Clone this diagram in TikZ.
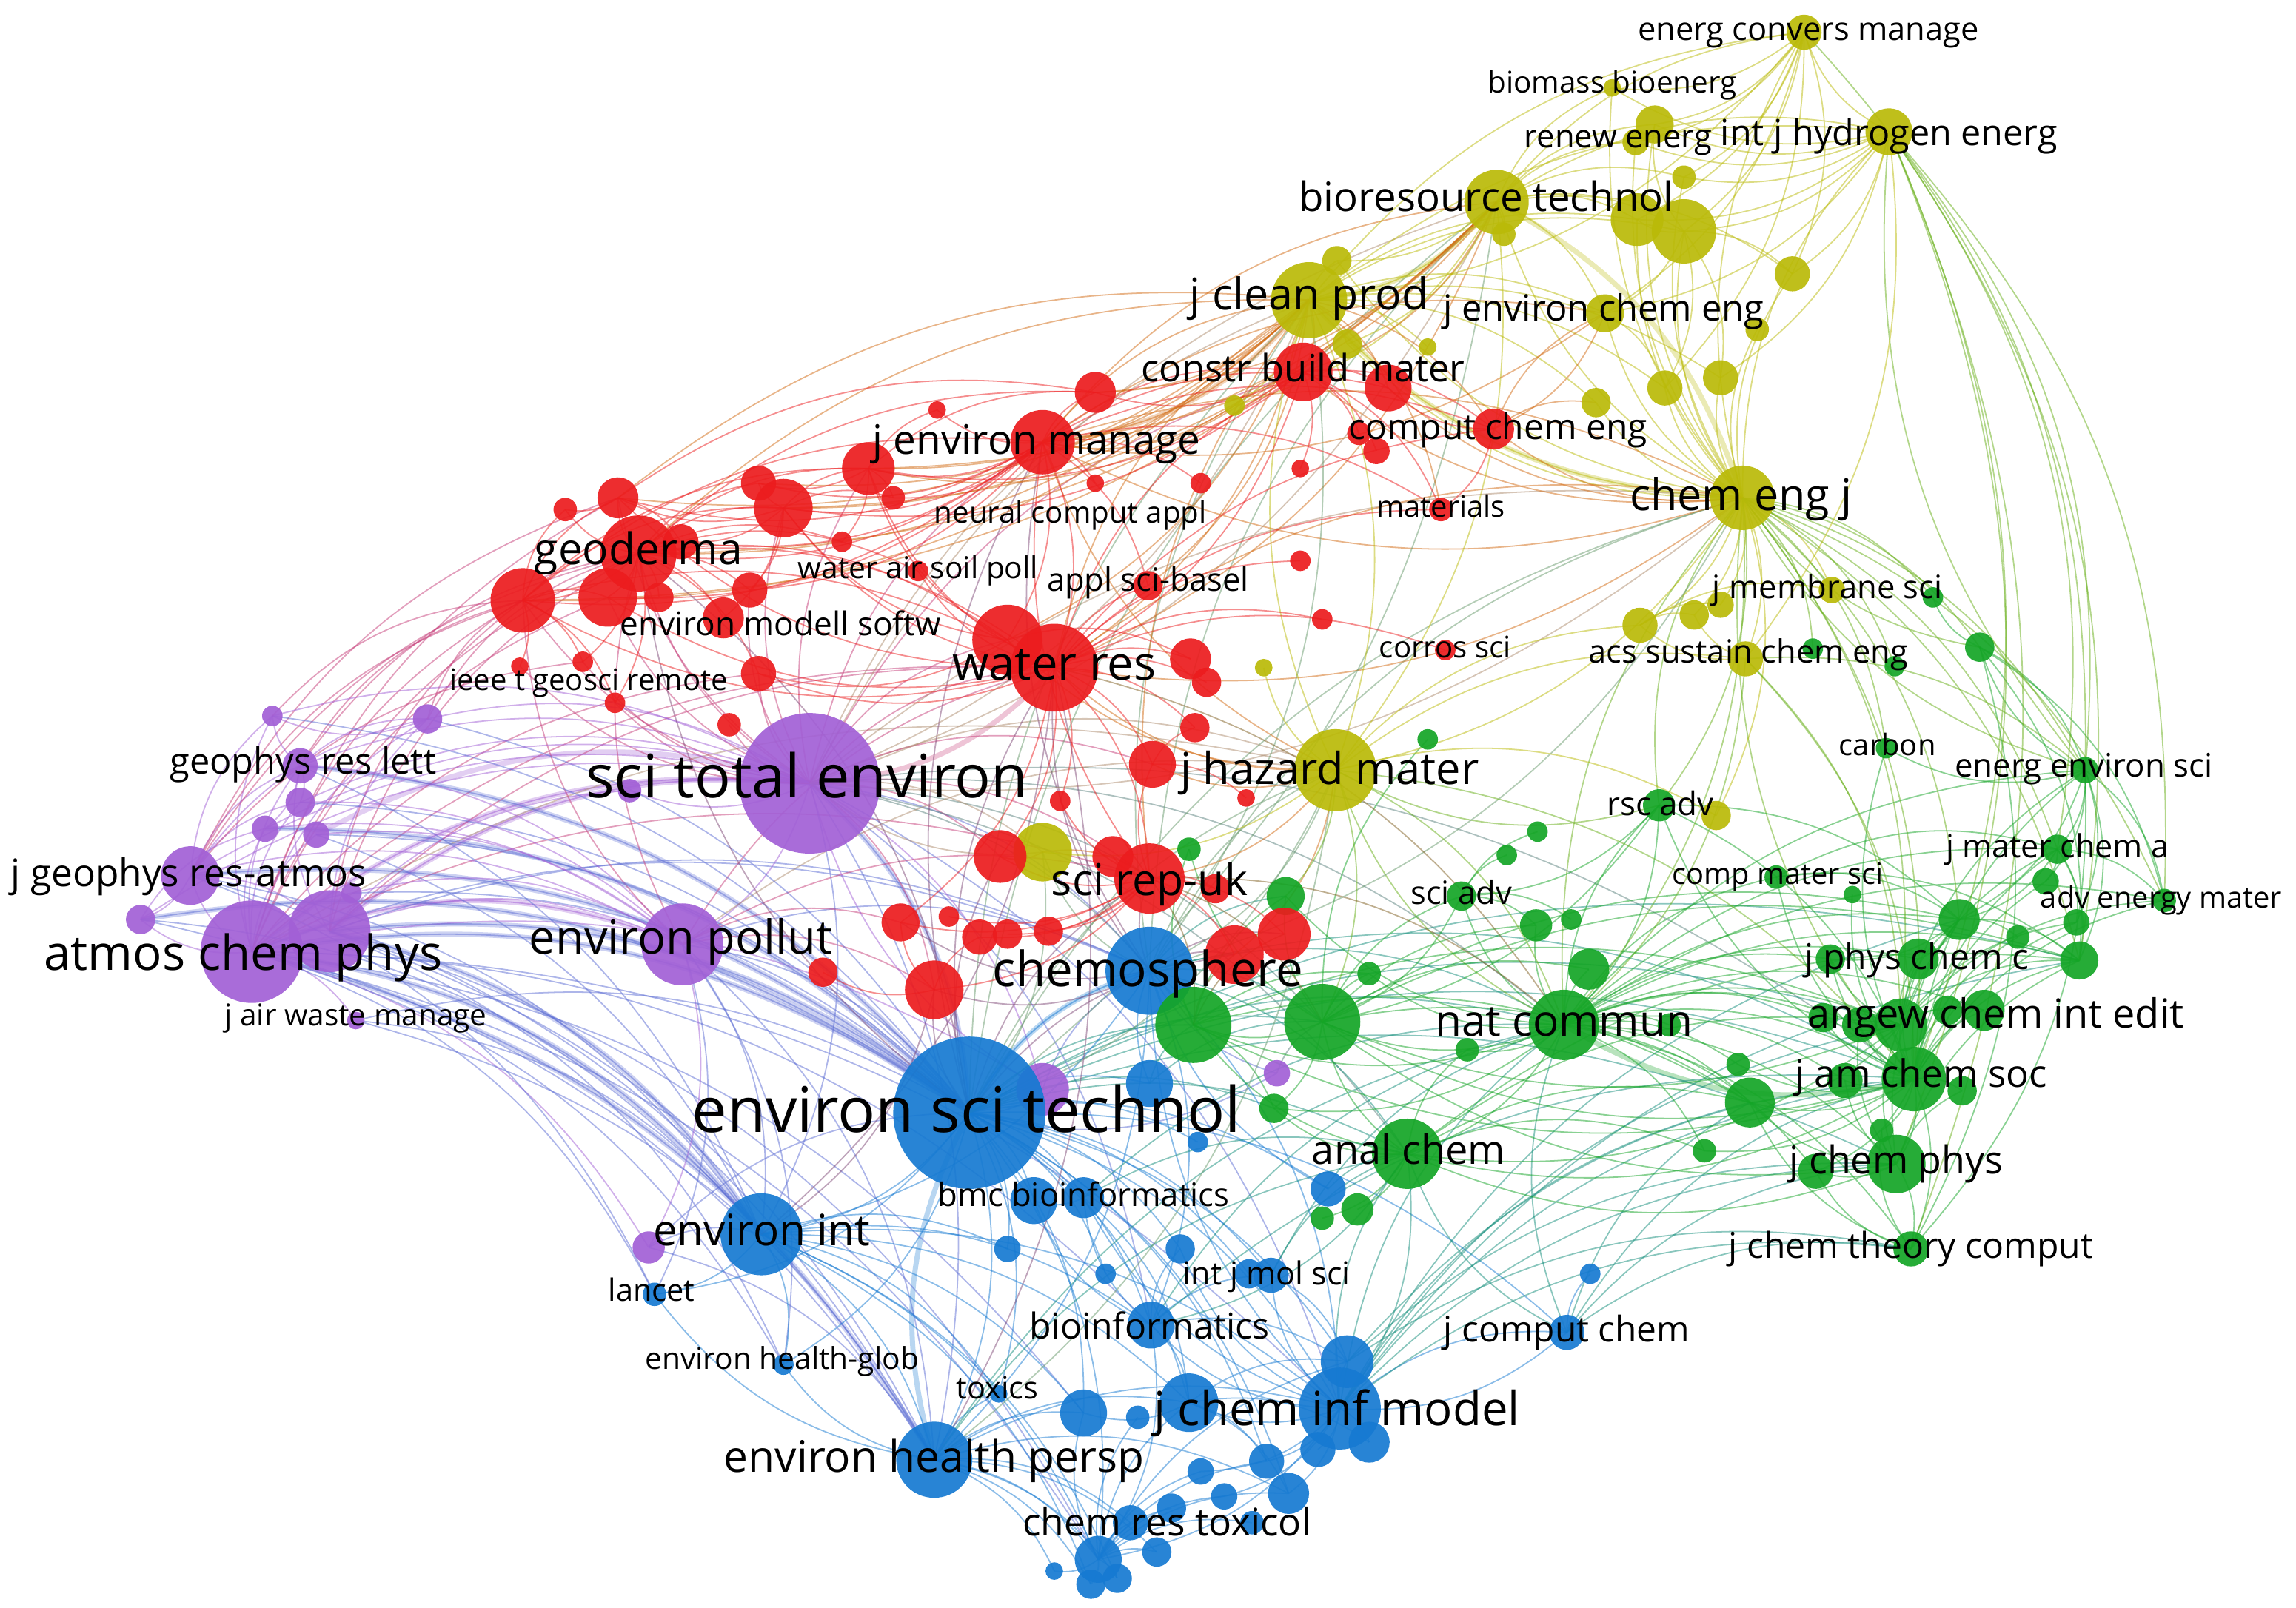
\documentclass[tikz,border=0pt]{standalone}
\usepackage{fontspec}
\setmainfont{Open Sans}
\usepackage{graphicx}
\pgfdeclarelayer{bg}
\pgfdeclarelayer{edges}
\pgfdeclarelayer{labels}
\pgfsetlayers{bg,edges,main,labels}
\definecolor{cred}{RGB}{236,28,30}
\definecolor{cyel}{RGB}{186,186,8}
\definecolor{cgrn}{RGB}{20,165,38}
\definecolor{cblu}{RGB}{22,122,210}
\definecolor{cpur}{RGB}{162,96,214}
\tikzset{
  ball/.style={circle, inner sep=0pt, draw=none, fill opacity=0.92},
  edge/.style={line width=0.9pt, draw opacity=0.5},
  bundle/.style={line width=3.5pt, draw opacity=0.3},
  lbl/.style={inner sep=0pt, text=black}
}
\newcommand\nd[5]{\node[ball, fill=#5, minimum size=#4*2pt] (#1) at (#2,#3) {};\expandafter\gdef\csname nc@#1\endcsname{#5}}
\newcommand\ed[3][]{\edef\ecA{\csname nc@#2\endcsname}\edef\ecB{\csname nc@#3\endcsname}\colorlet{ec}{\ecA!50!\ecB}\draw[edge, color=ec, #1] (#2.center) to[bend left=22] (#3.center);}
\newcommand\hub[2]{\foreach \tg in {#2}{\ed{#1}{\tg}}}
\newcommand\lb[5]{\node[lbl] (#1) at (#2,#3) {\resizebox{#4pt}{!}{\vphantom{hg}#5}};}
\begin{document}
\begin{tikzpicture}[x=1pt,y=-1pt]
\useasboundingbox (0,0) rectangle (1568,1098);
\begin{pgfonlayer}{bg}
\fill[white] (0,0) rectangle (1568,1098);
\end{pgfonlayer}
% ---------- purple
\nd{p1}{553}{535}{48}{cpur}
\nd{p2}{172}{650}{35}{cpur}
\nd{p3}{225}{636}{28}{cpur}
\nd{p4}{466}{645}{28}{cpur}
\nd{p5}{205}{523}{12}{cpur}
\nd{p6}{130}{598}{20}{cpur}
\nd{p7}{243}{697}{6}{cpur}
\nd{p8}{186}{489}{7}{cpur}
\nd{p9}{292}{491}{10}{cpur}
\nd{p10}{205}{548}{10}{cpur}
\nd{p11}{181}{566}{9}{cpur}
\nd{p12}{216}{570}{9}{cpur}
\nd{p13}{96}{628}{10}{cpur}
\nd{p14}{240}{610}{7}{cpur}
\nd{p15}{443}{852}{11}{cpur}
\nd{p16}{872}{733}{9}{cpur}
\nd{p17}{712}{744}{18}{cpur}
\nd{p18}{430}{540}{8}{cpur}
% ---------- blue
\nd{b1}{662}{760}{52}{cblu}
\nd{b2}{785}{663}{30}{cblu}
\nd{b3}{520}{843}{28}{cblu}
\nd{b13}{638}{997}{26}{cblu}
\nd{b11}{915}{962}{28}{cblu}
\nd{b4}{447}{884}{8}{cblu}
\nd{b5}{535}{932}{7}{cblu}
\nd{b6}{786}{905}{16}{cblu}
\nd{b7}{740}{818}{14}{cblu}
\nd{b8}{706}{820}{16}{cblu}
\nd{b9}{868}{871}{12}{cblu}
\nd{b10}{682}{952}{6}{cblu}
\nd{b12}{920}{930}{18}{cblu}
\nd{b14}{750}{1065}{16}{cblu}
\nd{b15}{1070}{910}{12}{cblu}
\nd{b16}{1086}{870}{7}{cblu}
\nd{b17}{688}{853}{9}{cblu}
\nd{b18}{806}{853}{10}{cblu}
\nd{b19}{740}{965}{16}{cblu}
\nd{b20}{777}{968}{8}{cblu}
\nd{b21}{812}{958}{20}{cblu}
\nd{b22}{865}{998}{12}{cblu}
\nd{b23}{880}{1020}{14}{cblu}
\nd{b24}{820}{1005}{9}{cblu}
\nd{b25}{836}{1022}{9}{cblu}
\nd{b26}{720}{1073}{6}{cblu}
\nd{b27}{790}{1060}{10}{cblu}
\nd{b28}{785}{740}{16}{cblu}
\nd{b29}{907}{812}{12}{cblu}
\nd{b30}{818}{780}{7}{cblu}
\nd{b31}{755}{870}{7}{cblu}
\nd{b32}{853}{870}{10}{cblu}
\nd{b34}{772}{1040}{12}{cblu}
\nd{b35}{800}{1030}{10}{cblu}
\nd{b36}{745}{1082}{10}{cblu}
\nd{b37}{763}{1078}{10}{cblu}
\nd{b38}{935}{985}{14}{cblu}
\nd{b39}{900}{990}{12}{cblu}
\nd{b40}{855}{1040}{8}{cblu}
% ---------- green
\nd{g1}{1068}{700}{24}{cgrn}
\nd{g2}{1085}{662}{14}{cgrn}
\nd{g3}{903}{698}{26}{cgrn}
\nd{g4}{815}{700}{26}{cgrn}
\nd{g5}{961}{788}{24}{cgrn}
\nd{g6}{927}{826}{11}{cgrn}
\nd{g7}{903}{832}{8}{cgrn}
\nd{g8}{870}{757}{10}{cgrn}
\nd{g9}{878}{612}{13}{cgrn}
\nd{g10}{998}{612}{10}{cgrn}
\nd{g11}{1049}{632}{11}{cgrn}
\nd{g12}{1073}{628}{7}{cgrn}
\nd{g13}{1029}{584}{7}{cgrn}
\nd{g14}{1050}{568}{7}{cgrn}
\nd{g15}{975}{505}{7}{cgrn}
\nd{g16}{935}{665}{8}{cgrn}
\nd{g17}{1002}{717}{8}{cgrn}
\nd{g18}{1140}{700}{8}{cgrn}
\nd{g19}{1133}{550}{11}{cgrn}
\nd{g20}{1288}{511}{7}{cgrn}
\nd{g21}{1424}{526}{9}{cgrn}
\nd{g22}{1352}{442}{10}{cgrn}
\nd{g23}{1320}{408}{7}{cgrn}
\nd{g24}{1238}{443}{7}{cgrn}
\nd{g25}{1294}{455}{7}{cgrn}
\nd{g26}{1405}{580}{10}{cgrn}
\nd{g27}{1397}{602}{9}{cgrn}
\nd{g28}{1213}{599}{8}{cgrn}
\nd{g29}{1265}{611}{6}{cgrn}
\nd{g30}{1478}{615}{8}{cgrn}
\nd{g31}{1338}{628}{14}{cgrn}
\nd{g32}{1378}{640}{8}{cgrn}
\nd{g33}{1420}{656}{13}{cgrn}
\nd{g34}{1418}{630}{9}{cgrn}
\nd{g35}{1298}{700}{18}{cgrn}
\nd{g36}{1270}{700}{12}{cgrn}
\nd{g37}{1245}{695}{10}{cgrn}
\nd{g38}{1355}{690}{14}{cgrn}
\nd{g39}{1307}{737}{22}{cgrn}
\nd{g40}{1195}{753}{17}{cgrn}
\nd{g41}{1260}{738}{12}{cgrn}
\nd{g42}{1340}{745}{10}{cgrn}
\nd{g43}{1295}{795}{20}{cgrn}
\nd{g44}{1240}{800}{12}{cgrn}
\nd{g45}{1305}{853}{12}{cgrn}
\nd{g46}{1164}{786}{8}{cgrn}
\nd{g47}{1285}{772}{8}{cgrn}
\nd{g48}{1250}{655}{10}{cgrn}
\nd{g49}{1310}{655}{14}{cgrn}
\nd{g50}{812}{580}{8}{cgrn}
\nd{g52}{1187}{727}{8}{cgrn}
\nd{g53}{1330}{690}{10}{cgrn}
% ---------- yellow
\nd{y1}{1232}{22}{12}{cyel}
\nd{y2}{1101}{60}{6}{cyel}
\nd{y3}{1117}{97}{9}{cyel}
\nd{y4}{1130}{85}{13}{cyel}
\nd{y5}{1290}{90}{16}{cyel}
\nd{y6}{1150}{121}{8}{cyel}
\nd{y7}{1022}{138}{22}{cyel}
\nd{y8}{1027}{160}{8}{cyel}
\nd{y9}{1118}{150}{18}{cyel}
\nd{y10}{1150}{158}{22}{cyel}
\nd{y11}{1224}{187}{12}{cyel}
\nd{y12}{913}{178}{10}{cyel}
\nd{y13}{894}{205}{26}{cyel}
\nd{y14}{920}{235}{10}{cyel}
\nd{y15}{975}{237}{6}{cyel}
\nd{y16}{1096}{214}{13}{cyel}
\nd{y17}{1200}{225}{8}{cyel}
\nd{y18}{1137}{265}{12}{cyel}
\nd{y19}{1175}{258}{12}{cyel}
\nd{y20}{1090}{275}{10}{cyel}
\nd{y21}{843}{277}{7}{cyel}
\nd{y22}{1190}{340}{22}{cyel}
\nd{y23}{1251}{403}{9}{cyel}
\nd{y24}{1120}{427}{12}{cyel}
\nd{y25}{1157}{420}{10}{cyel}
\nd{y26}{1175}{413}{9}{cyel}
\nd{y27}{1192}{450}{12}{cyel}
\nd{y28}{912}{526}{28}{cyel}
\nd{y29}{1172}{557}{10}{cyel}
\nd{y30}{712}{582}{20}{cyel}
\nd{y31}{863}{456}{6}{cyel}
% ---------- red
\nd{r1}{712}{302}{22}{cred}
\nd{r2}{593}{320}{18}{cred}
\nd{r3}{748}{268}{14}{cred}
\nd{r4}{640}{280}{6}{cred}
\nd{r5}{748}{330}{6}{cred}
\nd{r6}{820}{330}{7}{cred}
\nd{r7}{888}{320}{6}{cred}
\nd{r8}{535}{347}{20}{cred}
\nd{r9}{518}{330}{12}{cred}
\nd{r10}{422}{340}{14}{cred}
\nd{r11}{386}{348}{8}{cred}
\nd{r12}{436}{378}{26}{cred}
\nd{r13}{465}{370}{12}{cred}
\nd{r14}{357}{410}{22}{cred}
\nd{r15}{415}{408}{20}{cred}
\nd{r16}{450}{408}{10}{cred}
\nd{r17}{512}{403}{12}{cred}
\nd{r18}{494}{422}{14}{cred}
\nd{r19}{398}{452}{7}{cred}
\nd{r20}{420}{480}{7}{cred}
\nd{r21}{518}{460}{12}{cred}
\nd{r22}{610}{340}{8}{cred}
\nd{r23}{575}{370}{7}{cred}
\nd{r24}{627}{390}{7}{cred}
\nd{r25}{688}{437}{24}{cred}
\nd{r26}{720}{456}{30}{cred}
\nd{r27}{813}{450}{14}{cred}
\nd{r28}{824}{466}{10}{cred}
\nd{r29}{784}{400}{10}{cred}
\nd{r30}{888}{383}{7}{cred}
\nd{r31}{903}{423}{7}{cred}
\nd{r32}{984}{348}{8}{cred}
\nd{r33}{987}{444}{7}{cred}
\nd{r34}{948}{265}{16}{cred}
\nd{r35}{890}{254}{20}{cred}
\nd{r36}{940}{308}{9}{cred}
\nd{r37}{928}{296}{8}{cred}
\nd{r38}{1020}{293}{14}{cred}
\nd{r39}{787}{522}{16}{cred}
\nd{r40}{816}{497}{10}{cred}
\nd{r41}{785}{600}{24}{cred}
\nd{r42}{760}{585}{14}{cred}
\nd{r43}{724}{547}{7}{cred}
\nd{r44}{683}{585}{18}{cred}
\nd{r45}{615}{630}{13}{cred}
\nd{r46}{648}{626}{7}{cred}
\nd{r47}{669}{640}{12}{cred}
\nd{r48}{688}{638}{10}{cred}
\nd{r49}{716}{636}{10}{cred}
\nd{r50}{638}{676}{20}{cred}
\nd{r51}{562}{664}{10}{cred}
\nd{r52}{843}{652}{20}{cred}
\nd{r53}{877}{638}{18}{cred}
\nd{r54}{830}{607}{10}{cred}
\nd{r55}{498}{495}{8}{cred}
\nd{r56}{851}{545}{6}{cred}
\nd{r57}{355}{455}{6}{cred}
% ---------- edges
\begin{pgfonlayer}{edges}
\ed[bundle]{p2}{b1}\ed[bundle]{p3}{b1}\ed[bundle]{p2}{p1}\ed[bundle]{p6}{b1}
\ed[bundle]{p3}{p1}\ed[bundle]{p2}{p4}\ed[bundle]{p1}{b1}\ed[bundle]{p2}{b3}
\ed[bundle]{p13}{b1}\ed[bundle]{p11}{b1}\ed[bundle]{p12}{p1}\ed[bundle]{p5}{b1}
\ed[bundle]{p2}{b13}\ed[bundle]{p3}{b3}
\ed[bundle]{y22}{y13}\ed[bundle]{y7}{y22}\ed[bundle]{g39}{g1}\ed[bundle]{b1}{b2}
\ed[bundle]{y13}{r1}\ed[bundle]{y7}{y13}\ed[bundle]{r26}{p1}\ed[bundle]{b13}{b1}
\hub{p2}{p1,p4,b1,b3,p6,p5,p13,p10,p11,p12,p14,p7,p8,p9,b13,b2,r12,r14,p3,b4,p15,r26,b5,p17,b11,y28,r41,b14,b19,r10,r15,r21,b6}
\hub{p3}{p1,p4,b1,b3,p9,p5,b13,b2,p18,r26,r12,r14,b14,b5}
\hub{p6}{p1,p4,b1,p5,p9,p8,r14,r12,p10,p3,b3,p13,b13,r10,r19,b4}
\hub{p5}{p1,p4,b1,p9,p8,p10,p11,r12,r14,b3}
\hub{p1}{b1,b2,r26,r12,r1,y13,y28,r41,b3,b13,r14,r8,y7,g1,r25,r35,g4,g3,b11,p17,r15,r17,y22,r39,r2,r21,p18,r44,r50,p4,b6,g5,r55,r10,r19,r20,r57,y30,g39}
\hub{p4}{b1,b2,b3,r26,y28,r41,b13,r50,r45,p15,b4,r12,r14,b5}
\hub{p9}{p1,b1,p8,r14,r12}
\hub{p13}{b1,p1,p11,b3,b13}
\hub{p11}{b1,p1,p4}
\hub{p12}{b1,p4,b3}
\hub{p10}{p1,b1,p4}
\hub{p7}{b1,b3,b13}
\hub{p8}{b1,p1,r14}
\hub{p14}{b1,p4}
\hub{p15}{b1,b3,b13}
\hub{p16}{b1,b2,g3}
\hub{p17}{b1,b2,p1}
\hub{b1}{b2,b3,b13,b11,b6,b7,b8,r26,r41,y28,g1,g5,g3,g4,b14,b21,b19,b15,g39,y13,y7,r1,b4,b5,b10,b23,g43,b28,b29,r50,r44,b18,b17,b9,b22,r52,g8,b12,b30,b31,b32,g35,g33,r12,y22}
\hub{b2}{r26,y28,r41,b3,b13,g3,g4,g1,b11,r50,r52,y30,r1,y13,g9,y22,r53,r45,b6,g5,g39,y7}
\hub{b3}{b13,b4,b5,b11,b6,b14,b17,b19,b10,b21,b36,b37}
\hub{b13}{b14,b11,b19,b21,b5,b4,b10,b26,b23,b36,b34,g5,g1,b37,b27}
\hub{b11}{b6,b7,b15,g39,g43,g45,g1,b14,b21,b22,b23,b9,g5,b18,b12,g33,b38,b39,b2,b24,b25,g35,g31,g40}
\hub{b6}{b7,b9,b14,b21,b12,b8,b18,g1,g39}
\hub{b14}{b21,b22,b23,b24,b25,b19,b12,b27,b34,b35,b36,b37,b26,b20,b40}
\hub{b15}{g45,g43,g39,b11,g1,b16,g5,g40}
\hub{b7}{g1,g5,b8,b21}
\hub{b21}{b19,b22,b23,b12,b38}
\hub{b9}{g5,b12,g1}
\hub{b28}{g3,g4,b2}
\hub{b29}{g5,b2}
\hub{b12}{g43,g45,g39}
\hub{g1}{g3,g4,g5,g39,g35,g43,g31,g33,g49,g26,g21,g10,g19,g40,g38,g11,g2,g36,g37,g45,g46,g18,g17,g30,y22,y28,g28,g9,g16,g8,g44,g41,g48,g52}
\hub{g39}{g35,g43,g31,g33,g26,g21,g30,g40,g41,g42,g44,g45,g36,g37,g38,g49,g48,g32,g34,g27,g5,g3,g20,g28,g19,y22,g47,g52,g53,g46,g29,g4}
\hub{g43}{g45,g35,g40,g44,g47,g31,g33,g5,g36,g41,g42,g3}
\hub{g35}{g31,g33,g26,g30,g21,g49,g38,g40,g48,g34,g36,g37,g53,g3,g5}
\hub{g5}{g3,g4,g40,g6,g7,g8,g35,b11,b6,g17,g46,g33}
\hub{g3}{g4,g9,g16,g40,g10,g11,g2,g8,g50,g15,g31,g33}
\hub{g4}{g9,g8,g16,g50,r52,r53,g40,g35}
\hub{g21}{g26,g30,g33,g31,g34,g22,y22,y5,g20,g27,g45}
\hub{g22}{g21,y22,g33,g30,g23,g45}
\hub{g19}{y22,g1,g3,y28,g39,g31,g10}
\hub{g26}{g30,g33,g31,g27,g34}
\hub{g31}{g33,g48,g49,g32}
\hub{g45}{g40,g44,g47}
\hub{g28}{g31,g33,g26}
\hub{g10}{g3,g11,g13,g14,g12}
\hub{y22}{y7,y13,y5,y1,y10,y9,y16,y18,y19,y20,y11,y24,y25,y26,y27,y23,y28,y17,y4,y3,y2,y12,y14,r38,r35,r34,r1,r26,b2,p1,g1,g39,g21,g26,y29,g19,g22,g24,g25,g23,g20,g35,g31,y6,g30,g33}
\hub{y7}{y13,y1,y5,y4,y3,y2,y10,y9,y16,y6,y12,y28,r1,y21,r26,p1,b1,y11,y8,y14,r2,r8,r12,r35,r3,r14}
\hub{y13}{y1,y5,y10,y9,r1,r35,r34,r38,y16,y28,y18,y19,y20,r2,r8,r12,b2,r26,p1,y14,y15,r3,y12,y21,r29,r32,r14,r25,r10,r9}
\hub{y5}{y1,y4,y3,y2,y10,y9,y11,y27,g39,g21,g26,g30,g33,y6,y16,y19,g45,g43}
\hub{y1}{y3,y4,y2,y10,y9,y11,g21,y6,y16,y18,y13}
\hub{y28}{b1,b2,r26,r41,y13,g1,g3,b13,r1,y27,y24,y30,r39,r52,y29,g9,y31,r25,g39}
\hub{y27}{g39,g1,g35,g21,y24,y25}
\hub{y10}{y9,y4,y11,y16,y18,y19}
\hub{y24}{y25,y26,y23}
\hub{y30}{r41,p1,b1,r44}
\hub{y21}{r35,r1,r2}
\hub{y16}{r1,r38,y18}
\hub{r1}{r12,r8,r2,r26,r25,y13,r35,r38,r34,r3,r14,r15,y7,r32,r29,r17,r4,r5,r6,r22,r9,r10,r13,y22,y16}
\hub{r12}{r10,r11,r13,r14,r15,r16,r17,r18,r8,r9,r2,r26,r19,r20,r21,r24,b1,r23,r25,r3,y13}
\hub{r14}{r15,r10,r11,r19,r20,r26,r8,r57,r2,r1}
\hub{r26}{r25,r27,r28,r29,r39,r40,r41,y13,y22,r43,r44,r45,b3,b13,g1,r2,r8,r21,r24,r31,r33,r30,r15,r14,r10,r35,r38,r32}
\hub{r41}{r42,r43,r44,r45,r47,r50,r52,r53,g1,g3,g4,r39,r54,r46,r48,r49,y13,r1}
\hub{r35}{r34,r36,r37,r38,r3,r7,r32,r26,r2,r8}
\hub{r38}{r32,r34,y16,y20}
\hub{r8}{r9,r13,r17,r18,r2,r22,r10}
\hub{r25}{r2,r8,r21,r27}
\hub{r2}{r22,r23,r9,r4,r3}
\hub{r50}{r45,r51,r47,b3}
\hub{r39}{r40,r56}
\hub{r10}{r11,r13,r3,y13}
\end{pgfonlayer}
% ---------- labels
\begin{pgfonlayer}{labels}
\lb{t1}{1235}{22}{233}{energ convers manage}
\lb{t2}{1101}{58}{170}{biomass bioenerg}
\lb{t3}{1105}{95}{128}{renew energ}
\lb{t4}{1290}{93}{230}{int j hydrogen energ}
\lb{t5}{1015}{137}{256}{bioresource technol}
\lb{t6}{894}{204}{163}{j clean prod}
\lb{t7}{1095}{213}{219}{j environ chem eng}
\lb{t8}{890}{254}{221}{constr build mater}
\lb{t9}{1023}{294}{204}{comput chem eng}
\lb{t10}{708}{303}{224}{j environ manage}
\lb{t11}{1189}{341}{152}{chem eng j}
\lb{t12}{731}{352}{186}{neural comput appl}
\lb{t13}{984}{348}{88}{materials}
\lb{t14}{436}{378}{142}{geoderma}
\lb{t15}{627}{390}{164}{water air soil poll}
\lb{t16}{784}{398}{138}{appl sci-basel}
\lb{t17}{1248}{403}{157}{j membrane sci}
\lb{t18}{533}{428}{219}{environ modell softw}
\lb{t19}{987}{444}{90}{corros sci}
\lb{t20}{1194}{447}{218}{acs sustain chem eng}
\lb{t21}{720}{456}{139}{water res}
\lb{t22}{402}{466}{190}{ieee t geosci remote}
\lb{t23}{1289}{511}{66}{carbon}
\lb{t24}{207}{522}{182}{geophys res lett}
\lb{t25}{1423}{525}{176}{energ environ sci}
\lb{t26}{908}{528}{204}{j hazard mater}
\lb{t27}{551}{534}{302}{sci total environ}
\lb{t28}{1134}{551}{73}{rsc adv}
\lb{t29}{1405}{580}{152}{j mater chem a}
\lb{t30}{129}{599}{243}{j geophys res-atmos}
\lb{t31}{1214}{599}{144}{comp mater sci}
\lb{t32}{785}{604}{134}{sci rep-uk}
\lb{t33}{998}{612}{69}{sci adv}
\lb{t34}{1476}{615}{165}{adv energy mater}
\lb{t35}{465}{643}{207}{environ pollut}
\lb{t36}{166}{654}{272}{atmos chem phys}
\lb{t37}{1309}{656}{153}{j phys chem c}
\lb{t38}{784}{665}{212}{chemosphere}
\lb{t39}{243}{695}{179}{j air waste manage}
\lb{t40}{1068}{700}{176}{nat commun}
\lb{t41}{1363}{695}{257}{angew chem int edit}
\lb{t42}{1312}{736}{172}{j am chem soc}
\lb{t43}{660}{762}{375}{environ sci technol}
\lb{t44}{962}{788}{132}{anal chem}
\lb{t45}{1295}{795}{146}{j chem phys}
\lb{t46}{740}{818}{199}{bmc bioinformatics}
\lb{t47}{520}{843}{148}{environ int}
\lb{t48}{1305}{853}{249}{j chem theory comput}
\lb{t49}{865}{872}{114}{int j mol sci}
\lb{t50}{445}{883}{59}{lancet}
\lb{t51}{785}{908}{164}{bioinformatics}
\lb{t52}{1070}{910}{168}{j comput chem}
\lb{t53}{534}{930}{187}{environ health-glob}
\lb{t54}{681}{950}{56}{toxics}
\lb{t55}{913}{965}{250}{j chem inf model}
\lb{t56}{638}{998}{287}{environ health persp}
\lb{t57}{797}{1042}{197}{chem res toxicol}
\end{pgfonlayer}
\end{tikzpicture}
\end{document}
